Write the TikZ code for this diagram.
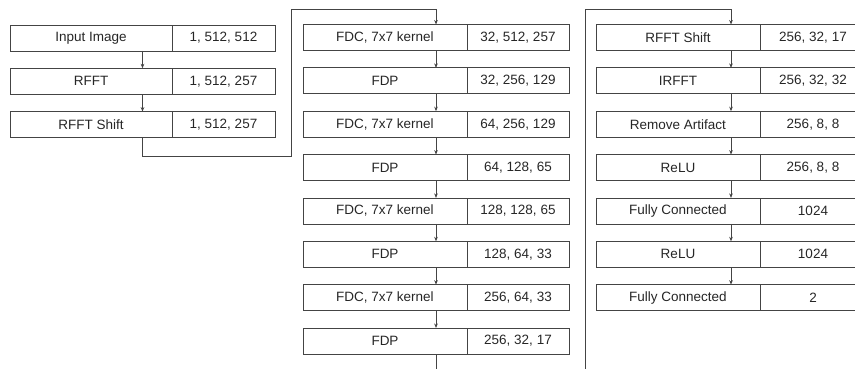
\documentclass[tikz,border=0pt]{standalone}
\usepackage{fontspec}
\setmainfont{Liberation Sans}
\usetikzlibrary{arrows.meta,calc}
\definecolor{linec}{HTML}{444444}
\definecolor{textc}{HTML}{262626}
\tikzset{
  cell/.style={draw=linec, line width=0.8pt, rectangle, inner sep=0pt, outer sep=0pt,
    minimum height=26pt, anchor=north west, text=textc,
    font=\fontsize{13.5}{16}\selectfont},
  lcell/.style={cell, minimum width=#1},
  conn/.style={draw=linec, line width=0.8pt},
  arr/.style={conn, -{Stealth[length=4.5pt,width=3.6pt]}}
}
\begin{document}
\begin{tikzpicture}[x=1pt,y=-1pt]
\useasboundingbox (0,0) rectangle (855,369);
% column 1
\node[lcell=162pt] (a1) at (10,25) {Input Image};
\node[lcell=103pt] (b1) at (172,25) {1, 512, 512};
\node[lcell=162pt] (a2) at (10,68.3) {RFFT};
\node[lcell=103pt] (b2) at (172,68.3) {1, 512, 257};
\node[lcell=162pt] (a3) at (10,111.6) {RFFT Shift};
\node[lcell=103pt] (b3) at (172,111.6) {1, 512, 257};
% column 2
\node[lcell=164pt] (c1) at (303,24.5) {FDC, 7x7 kernel};
\node[lcell=102pt] (d1) at (467,24.5) {32, 512, 257};
\node[lcell=164pt] (c2) at (303,67.9) {FDP};
\node[lcell=102pt] (d2) at (467,67.9) {32, 256, 129};
\node[lcell=164pt] (c3) at (303,111.2) {FDC, 7x7 kernel};
\node[lcell=102pt] (d3) at (467,111.2) {64, 256, 129};
\node[lcell=164pt] (c4) at (303,154.6) {FDP};
\node[lcell=102pt] (d4) at (467,154.6) {64, 128, 65};
\node[lcell=164pt] (c5) at (303,197.9) {FDC, 7x7 kernel};
\node[lcell=102pt] (d5) at (467,197.9) {128, 128, 65};
\node[lcell=164pt] (c6) at (303,241.3) {FDP};
\node[lcell=102pt] (d6) at (467,241.3) {128, 64, 33};
\node[lcell=164pt] (c7) at (303,284.7) {FDC, 7x7 kernel};
\node[lcell=102pt] (d7) at (467,284.7) {256, 64, 33};
\node[lcell=164pt] (c8) at (303,328.0) {FDP};
\node[lcell=102pt] (d8) at (467,328.0) {256, 32, 17};
% column 3
\node[lcell=164pt] (e1) at (596,24.5) {RFFT Shift};
\node[lcell=106pt] (f1) at (760,24.5) {256, 32, 17};
\node[lcell=164pt] (e2) at (596,67.9) {IRFFT};
\node[lcell=106pt] (f2) at (760,67.9) {256, 32, 32};
\node[lcell=164pt] (e3) at (596,111.2) {Remove Artifact};
\node[lcell=106pt] (f3) at (760,111.2) {256, 8, 8};
\node[lcell=164pt] (e4) at (596,154.6) {ReLU};
\node[lcell=106pt] (f4) at (760,154.6) {256, 8, 8};
\node[lcell=164pt] (e5) at (596,197.9) {Fully Connected};
\node[lcell=106pt] (f5) at (760,197.9) {1024};
\node[lcell=164pt] (e6) at (596,241.3) {ReLU};
\node[lcell=106pt] (f6) at (760,241.3) {1024};
\node[lcell=164pt] (e7) at (596,284.7) {Fully Connected};
\node[lcell=106pt] (f7) at (760,284.7) {2};
% arrows within columns
\foreach \i/\j in {1/2,2/3}{
  \draw[arr] ($(a\i.south west)!0.5!(b\i.south east)$) -- ($(a\j.north west)!0.5!(b\j.north east)$);
}
\foreach \i/\j in {1/2,2/3,3/4,4/5,5/6,6/7,7/8}{
  \draw[arr] ($(c\i.south west)!0.5!(d\i.south east)$) -- ($(c\j.north west)!0.5!(d\j.north east)$);
}
\foreach \i/\j in {1/2,2/3,3/4,4/5,5/6,6/7}{
  \draw[arr] ($(e\i.south west)!0.5!(f\i.south east)$) -- ($(e\j.north west)!0.5!(f\j.north east)$);
}
% connectors between columns
\coordinate (c1top) at ($(c1.north west)!0.5!(d1.north east)$);
\coordinate (e1top) at ($(e1.north west)!0.5!(f1.north east)$);
\draw[arr] ($(a3.south west)!0.5!(b3.south east)$) |- (291,156) |- ($(c1top)+(0,-15.5)$) -- (c1top);
\coordinate (col2end) at ($(c8.south west)!0.5!(d8.south east)+(0,20)$);
\draw[conn] ($(c8.south west)!0.5!(d8.south east)$) -- (col2end);
\coordinate (col3start) at (585,375);
\draw[arr] (col3start) |- ($(e1top)+(0,-15.5)$) -- (e1top);
\end{tikzpicture}
\end{document}
